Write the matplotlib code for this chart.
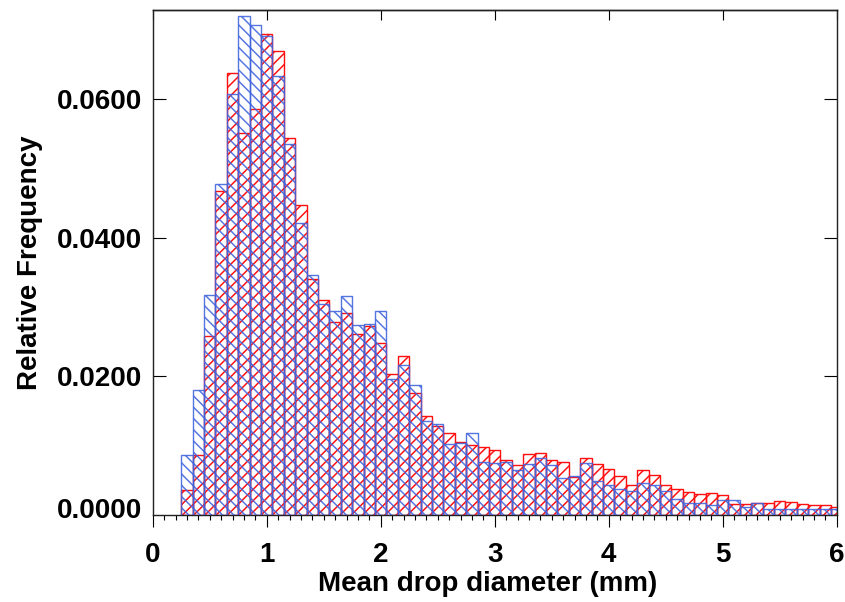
import matplotlib
matplotlib.use("Agg")
import matplotlib.pyplot as plt
import matplotlib.transforms as mtransforms
from matplotlib.ticker import MultipleLocator

# ---- data ----
bin_centers = [0.3, 0.4, 0.5, 0.6, 0.7, 0.8, 0.9, 1.0, 1.1, 1.2,
               1.3, 1.4, 1.5, 1.6, 1.7, 1.8, 1.9, 2.0, 2.1, 2.2,
               2.3, 2.4, 2.5, 2.6, 2.7, 2.8, 2.9, 3.0, 3.1, 3.2,
               3.3, 3.4, 3.5, 3.6, 3.7, 3.8, 3.9, 4.0, 4.1, 4.2,
               4.3, 4.4, 4.5, 4.6, 4.7, 4.8, 4.9, 5.0, 5.1, 5.2,
               5.3, 5.4, 5.5, 5.6, 5.7, 5.8, 5.9, 6.0]
bin_width = 0.1

red_freq = [0.0036, 0.0087, 0.0258, 0.0468, 0.0638, 0.0552, 0.0586, 0.0694, 0.0670, 0.0544,
            0.0447, 0.0340, 0.0310, 0.0278, 0.0291, 0.0261, 0.0273, 0.0249, 0.0203, 0.0229,
            0.0176, 0.0143, 0.0129, 0.0118, 0.0106, 0.0101, 0.0098, 0.0094, 0.0080, 0.0072,
            0.0088, 0.0089, 0.0080, 0.0076, 0.0055, 0.0083, 0.0074, 0.0066, 0.0056, 0.0044,
            0.0065, 0.0058, 0.0044, 0.0037, 0.0033, 0.0031, 0.0032, 0.0029, 0.0016, 0.0016,
            0.0017, 0.0018, 0.0020, 0.0019, 0.0016, 0.0015, 0.0014, 0.0012]

blue_freq = [0.0087, 0.0180, 0.0317, 0.0478, 0.0608, 0.0720, 0.0708, 0.0692, 0.0634, 0.0535,
             0.0421, 0.0346, 0.0304, 0.0295, 0.0316, 0.0274, 0.0276, 0.0294, 0.0197, 0.0217,
             0.0187, 0.0136, 0.0132, 0.0102, 0.0104, 0.0118, 0.0077, 0.0075, 0.0076, 0.0065,
             0.0073, 0.0083, 0.0072, 0.0053, 0.0056, 0.0075, 0.0049, 0.0044, 0.0037, 0.0034,
             0.0046, 0.0043, 0.0034, 0.0023, 0.0018, 0.0017, 0.0015, 0.0021, 0.0021, 0.0012,
             0.0018, 0.0009, 0.0009, 0.0009, 0.0009, 0.0009, 0.0009, 0.0008]

x_ticks = [0, 1, 2, 3, 4, 5, 6]
y_ticks = [0.02, 0.04, 0.06]
y_tick_labels = ["0.0200", "0.0400", "0.0600"]
zero_label = "0.0000"
x_label = "Mean drop diameter (mm)"
y_label = "Relative Frequency"

# ---- style ----
DPI = 135
W, H = 845, 602
plt.rcParams["font.family"] = ["Liberation Sans", "DejaVu Sans"]
plt.rcParams["font.weight"] = "bold"
plt.rcParams["hatch.linewidth"] = 0.8
FS = 14.8

fig = plt.figure(figsize=(W / DPI, H / DPI), dpi=DPI)
left_px, right_px, top_px, bottom_px = 152.7, 836.7, 10, 515
ax = fig.add_axes([left_px / W, (H - bottom_px) / H,
                   (right_px - left_px) / W, (bottom_px - top_px) / H])

red = "#ff1010"
blue = "#3f63dd"
ax.bar(bin_centers, red_freq, width=bin_width, facecolor="none",
       edgecolor=red, hatch="////", linewidth=0.75, zorder=2)
ax.bar(bin_centers, blue_freq, width=bin_width, facecolor="none",
       edgecolor=blue, hatch="\\\\\\\\", linewidth=0.75, alpha=0.88, zorder=3)

ax.set_xlim(0, 6)
ax.set_ylim(0, 0.0729)

for sp in ax.spines.values():
    sp.set_linewidth(0.75)
    sp.set_color("#222222")

ax.set_xticks(x_ticks)
ax.set_xticklabels([str(t) for t in x_ticks], fontsize=FS, fontweight="bold")
ax.xaxis.set_minor_locator(MultipleLocator(0.1))
ax.tick_params(axis="x", which="major", direction="out", length=6.2, width=0.6,
               pad=8.3, bottom=True, top=False)
ax.tick_params(axis="x", which="minor", direction="out", length=2.7, width=0.6,
               bottom=True, top=False)

ax.set_yticks(y_ticks)
ax.set_yticklabels(y_tick_labels, fontsize=FS, fontweight="bold")
ax.tick_params(axis="y", which="major", direction="in", length=7.1, width=0.6,
               pad=5.7, left=True, right=True)

# top inward major ticks
sec = ax.secondary_xaxis("top")
sec.set_xticks(x_ticks)
sec.tick_params(axis="x", which="major", direction="in", length=5.3, width=0.6,
                labeltop=False)
sec.spines["top"].set_linewidth(0.75)
sec.spines["top"].set_color("#222222")

# zero label, raised slightly as in the reference
tr = mtransforms.offset_copy(ax.get_yaxis_transform(), fig=fig,
                             x=-5.7, y=7 * 72 / DPI, units="points")
ax.text(0, 0, zero_label, transform=tr, ha="right", va="center_baseline",
        fontsize=FS, fontweight="bold")

fig.text(488 / W, 1 - 591 / H, x_label, ha="center", va="baseline",
         fontsize=FS, fontweight="bold")
fig.text(30 / W, 1 - 263 / H, y_label, ha="center", va="center", rotation=90,
         fontsize=FS, fontweight="bold")

fig.savefig("out.png", dpi=DPI)
